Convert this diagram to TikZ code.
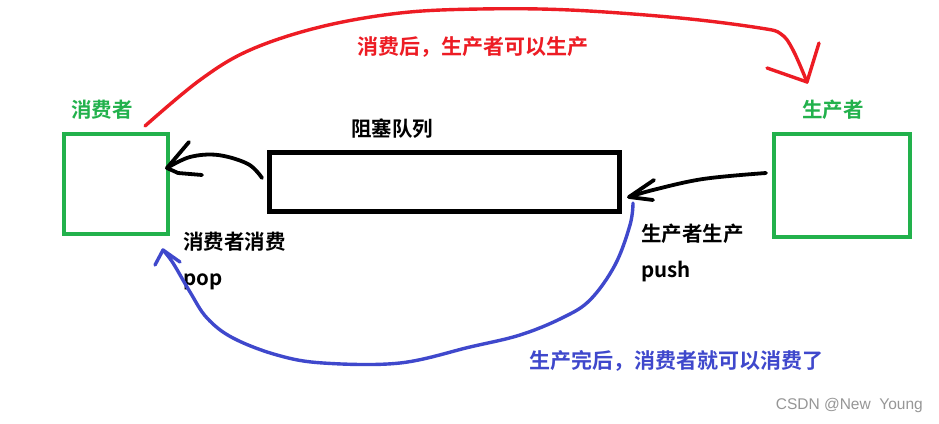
\documentclass[tikz,border=0pt]{standalone}
\usepackage{fontspec}
\newfontfamily\cjk{Noto Sans CJK SC}[BoldFont={Noto Sans CJK SC Bold}]
\newfontfamily\wmfont{Liberation Sans}
\definecolor{pgreen}{HTML}{22B14C}
\definecolor{pred}{HTML}{ED1C24}
\definecolor{pblue}{HTML}{3F48CC}
\definecolor{wmgray}{HTML}{969696}
\begin{document}
\begin{tikzpicture}[x=1pt,y=-1pt,
  greenbox/.style={draw=pgreen,line width=4pt,minimum width=104pt,minimum height=100pt,inner sep=0pt},
  queuebox/.style={draw=black,line width=5pt,minimum width=350pt,minimum height=59pt,inner sep=0pt},
  lbl/.style={font=\cjk\bfseries\fontsize{20.5}{22}\selectfont,inner sep=0pt},
  biglbl/.style={font=\cjk\bfseries\fontsize{21}{23}\selectfont,inner sep=0pt},
  hand/.style={line width=3.8pt,line cap=round,line join=round},
  colhand/.style={line width=3.4pt,line cap=round,line join=round},
]
\fill[white] (0,0) rectangle (939,423);
\useasboundingbox (0,0) rectangle (939,423);

% boxes
\node[greenbox] (cons) at (116,184) {};
\node[greenbox,minimum width=136pt,minimum height=103pt] (prod) at (842,185.5) {};
\node[queuebox] (queue) at (444.5,182) {};

% labels
\node[lbl,text=pgreen,anchor=base] (consl) at (102,117) {消费者};
\node[lbl,text=pgreen,anchor=base] (prodl) at (833,117) {生产者};
\node[lbl,anchor=base] (queuel) at (392,136) {阻塞队列};
\node[biglbl,text=pred,anchor=base] (redl) at (473,54.5) {消费后，生产者可以生产};
\node[lbl,anchor=base west] (conscons) at (183,249) {消费者消费};
\node[lbl,anchor=base west] (pop) at (183,285) {pop};
\node[lbl,anchor=base west] (prodprod) at (641,241) {生产者生产};
\node[lbl,anchor=base west] (push) at (641,277) {push};
\node[biglbl,text=pblue,anchor=base] (bluel) at (676,368) {生产完后，消费者就可以消费了};
\node[font=\wmfont\fontsize{15.5}{17}\selectfont,text=wmgray,anchor=base east,inner sep=0pt] (wm) at (923,409) {CSDN @New\ \ Young};

% connector end points
\coordinate (rs) at (145,126);
\coordinate (re) at (807,82);
\coordinate (ls) at (262,178);
\coordinate (le) at (167,168);
\coordinate (ps) at (766,173);
\coordinate (pe) at (629,197);
\coordinate (bs) at (633,203);
\coordinate (be) at (163,250);

% red: consumer -> producer
\draw[colhand,pred] plot[smooth,tension=0.6] coordinates
  {(rs) (200,80) (250,50) (320,27) (400,13) (480,9) (570,10) (680,18) (760,28) (781,34) (793,50) (re)};
\draw[colhand,pred] (767,68) -- (re) -- (819,43);

% black: queue -> consumer
\draw[hand] plot[smooth,tension=0.6] coordinates
  {(ls) (248,164) (218,155) (190,157) (le)};
\draw[hand] (189,142) -- (le) -- (178,173) -- (202,175);

% black: producer -> queue
\draw[hand] plot[smooth,tension=0.6] coordinates
  {(ps) (703,179) (653,190) (pe)};
\draw[hand] (654,180) -- (pe) -- (653,200);

% blue: producer side -> consumer
\draw[colhand,pblue] plot[smooth,tension=0.6] coordinates
  {(bs) (630,225) (615,265) (590,300) (562,318) (520,335) (470,347) (400,363) (323,363) (277,355) (233,338) (207,318) (190,292) (173,263) (be)};
\draw[colhand,pblue] (155,265) -- (be) -- (180,262);
\end{tikzpicture}
\end{document}
